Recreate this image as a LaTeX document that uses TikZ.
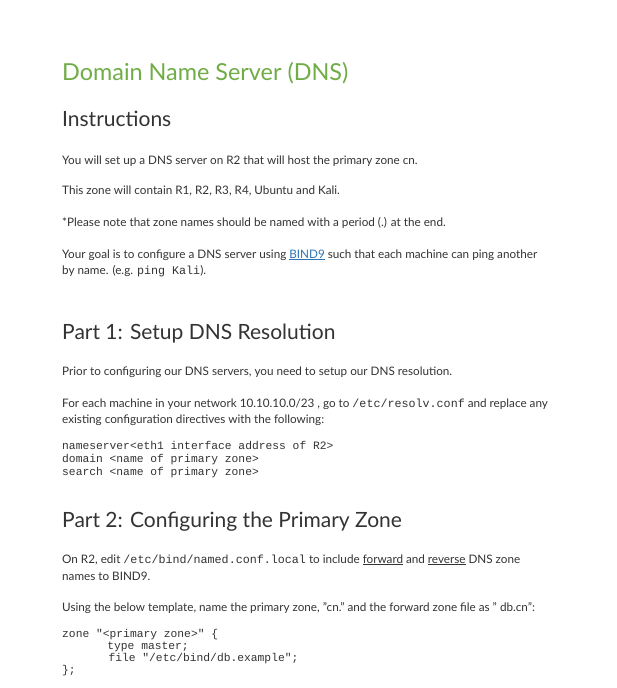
\documentclass[tikz,border=0pt]{standalone}
\usepackage{fontspec}
\setmainfont{Lato}
\setmonofont{Liberation Mono}
\newcommand\myul[1]{\underline{#1}}
\definecolor{txt}{HTML}{333333}
\definecolor{ttl}{HTML}{70AD47}
\definecolor{lnk}{HTML}{2E75B6}
\begin{document}
\begin{tikzpicture}[x=1pt,y=-1pt,
  body/.style={anchor=base west,inner sep=0,text=txt,font=\fontsize{11.7}{14}\selectfont},
  head/.style={anchor=base west,inner sep=0,text=txt,font=\fontsize{21}{26}\selectfont},
  code/.style={anchor=base west,inner sep=0,text=txt,font=\ttfamily\fontsize{11.3}{13}\selectfont}]
\useasboundingbox (0,0) rectangle (616,688);
\fill[white] (0,0) rectangle (616,688);
\node[anchor=base west,inner sep=0,text=ttl,font=\fontsize{23.4}{28}\selectfont] (t) at (62,80) {Domain Name Server (DNS)};
\node[head] (h1) at (62,126) {Instructions};
\node[body] (p1) at (62,164) {You will set up a DNS server on R2 that will host the primary zone cn.};
\node[body] (p2) at (62,194) {This zone will contain R1, R2, R3, R4, Ubuntu and Kali.};
\node[body] (p3) at (62,226) {*Please note that zone names should be named with a period (.) at the end.};
\node[body] (p4) at (62,258) {Your goal is to configure a DNS server using \textcolor{lnk}{\myul{BIND9}} such that each machine can ping another};
\node[body] (p5) at (62,274) {by name. (e.g. \texttt{ping Kali}).};
\node[head] (h2) at (62,339) {Part 1: Setup DNS Resolution};
\node[body] (q1) at (62,375) {Prior to configuring our DNS servers, you need to setup our DNS resolution.};
\node[body] (q2) at (62,407) {For each machine in your network 10.10.10.0/23 , go to \texttt{/etc/resolv.conf} and replace any};
\node[body] (q3) at (62,423) {existing configuration directives with the following:};
\node[code] (c1) at (62,449) {nameserver<eth1 interface address of R2>};
\node[code] (c2) at (62,462) {domain <name of primary zone>};
\node[code] (c3) at (62,475) {search <name of primary zone>};
\node[head] (h3) at (62,527) {Part 2: Configuring the Primary Zone};
\node[body] (r1) at (62,563) {On R2, edit \texttt{/etc/bind/named.conf.local} to include \myul{forward} and \myul{reverse} DNS zone};
\node[body] (r2) at (62,580) {names to BIND9.};
\node[body] (r3) at (62,611) {Using the below template, name the primary zone, "cn." and the forward zone file as " db.cn":};
\node[code] (d1) at (62,637) {zone "<primary zone>" \{};
\node[code] (d2) at (62,649) {\hspace*{4em}type master;};
\node[code] (d3) at (62,661) {\hspace*{4.1em}file "/etc/bind/db.example";};
\node[code] (d4) at (62,673) {\};};
\end{tikzpicture}
\end{document}
